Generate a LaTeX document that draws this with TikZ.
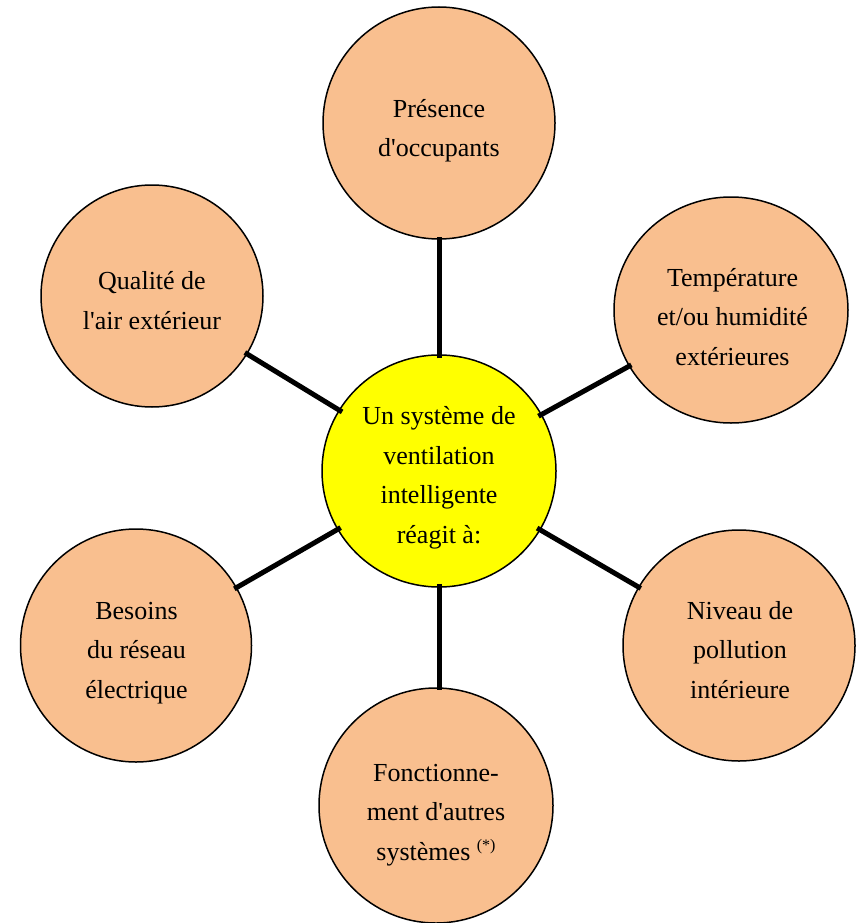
\documentclass[tikz,border=0pt]{standalone}
\usepackage{fontspec}
\setmainfont{Liberation Serif}[Ligatures=TeXOff]
\usetikzlibrary{shapes.geometric}
\definecolor{peach}{HTML}{F9BF8F}
\definecolor{hubyellow}{HTML}{FFFF00}
\begin{document}
\begin{tikzpicture}[x=1pt,y=-1pt,
  bub/.style={ellipse,draw=black,line width=1.5pt,fill=peach,inner sep=0pt},
  hub/.style={bub,fill=hubyellow},
  lbl/.style={align=center,inner sep=0pt,font=\fontsize{26}{39.5}\selectfont},
  link/.style={line width=5pt,shorten <=-4pt,shorten >=-3pt}]
\useasboundingbox (0,0) rectangle (855,923);

\node[bub,minimum width=232pt,minimum height=232pt] (top) at (439,123) {};
\node[bub,minimum width=222pt,minimum height=222pt] (ul) at (152,296) {};
\node[bub,minimum width=234pt,minimum height=226pt] (ur) at (731,310) {};
\node[hub,minimum width=234pt,minimum height=232pt] (hub) at (439,471) {};
\node[bub,minimum width=231pt,minimum height=233pt] (ll) at (136,645.5) {};
\node[bub,minimum width=232pt,minimum height=231pt] (lr) at (739,645.5) {};
\node[bub,minimum width=234pt,minimum height=235pt] (bot) at (436,805.5) {};

\draw[link] (hub) -- (top);
\draw[link] (hub) -- (ul);
\draw[link] (hub) -- (ur);
\draw[link] (hub) -- (ll);
\draw[link] (hub) -- (lr);
\draw[link] (hub.south) -- (bot.north -| hub.south);

\node[lbl] (ttop) at (439,129.1) {\strut Présence\\d'occupants\strut};
\node[lbl] (tul) at (152,301.6) {\strut Qualité de\\l'air extérieur\strut};
\node[lbl] (tur) at (732.5,317.6) {\strut Température\\et/ou humidité\\extérieures\strut};
\node[lbl] (thub) at (439,476.1) {\strut Un système de\\ventilation\\intelligente\\réagit à:\strut};
\node[lbl] (tll) at (136.5,650.6) {\strut Besoins\\du réseau\\électrique\strut};
\node[lbl] (tlr) at (740,650.9) {\strut Niveau de\\pollution\\intérieure\strut};
\node[lbl] (tbot) at (436,812.8) {\strut Fonctionne-\\ment d'autres\\systèmes \raisebox{10pt}{\fontsize{16}{16}\selectfont (*)}\strut};
\end{tikzpicture}
\end{document}
